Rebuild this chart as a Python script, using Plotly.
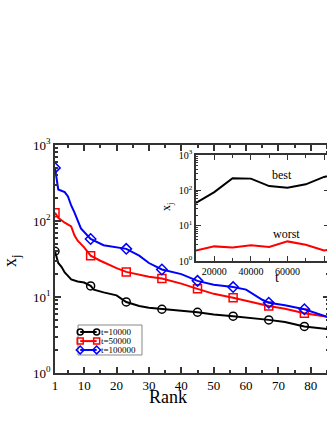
import plotly.graph_objects as go

# main panel: x_j vs rank
rank_10k = [1, 2, 3, 4, 5, 6, 8, 10, 12, 13, 16, 20, 23, 27, 30, 34, 40, 45, 50, 56, 62, 67, 72, 78, 85]
xj_10k = [40, 28, 25, 21, 19, 17, 16, 15.5, 14, 12.5, 11.5, 10.5, 8.6, 7.6, 7.2, 6.9, 6.6, 6.3, 5.9, 5.6, 5.3, 5.0, 4.7, 4.1, 3.8]

rank_50k = [1, 2, 4, 6, 7, 8, 10, 12, 15, 18, 20, 23, 27, 30, 34, 40, 45, 50, 56, 60, 65, 67, 72, 78, 85]
xj_50k = [128, 110, 95, 85, 65, 55, 45, 35, 30, 26, 24, 21.4, 19.5, 18.5, 17.5, 15, 12.8, 11, 9.8, 9, 8, 7.6, 7, 6.1, 5.5]

rank_100k = [1, 2, 4, 5, 6, 7, 9, 12, 16, 20, 23, 27, 30, 34, 40, 45, 50, 56, 60, 65, 67, 72, 78, 85]
xj_100k = [500, 260, 240, 210, 160, 130, 80, 58, 48, 45, 43, 35, 28, 23, 20, 16.3, 14.5, 13.5, 12.5, 9.2, 8.4, 7.8, 6.9, 5.5]

marker_ranks = [1, 12, 23, 34, 45, 56, 67, 78]

# inset: best / worst over time
t_vals = [10000, 20000, 30000, 40000, 50000, 60000, 70000, 80000, 90000]
xj_best = [44, 89, 220, 215, 132, 118, 148, 240, 320]
xj_worst = [2.0, 2.6, 2.4, 2.8, 2.5, 3.6, 2.9, 2.0, 2.3]

labels = ["t=10000", "t=50000", "t=100000"]
colors = ["black", "red", "blue"]
symbols = ["circle-open", "square-open", "diamond-open"]

serif = "Liberation Serif"
fig = go.Figure()

for name, rk, xj, col, sym in zip(labels, [rank_10k, rank_50k, rank_100k],
                                  [xj_10k, xj_50k, xj_100k], colors, symbols):
    mk = [xj[rk.index(r)] for r in marker_ranks]
    fig.add_trace(go.Scatter(x=rk, y=xj, mode="lines", line=dict(color=col, width=2),
                             showlegend=False, hoverinfo="skip"))
    fig.add_trace(go.Scatter(x=marker_ranks, y=mk, mode="markers", name=name,
                             marker=dict(symbol=sym, size=8, color=col, line=dict(color=col, width=1.5)),
                             showlegend=False))

fig.add_trace(go.Scatter(x=t_vals, y=xj_best, mode="lines", line=dict(color="black", width=2),
                         xaxis="x2", yaxis="y2", showlegend=False))
fig.add_trace(go.Scatter(x=t_vals, y=xj_worst, mode="lines", line=dict(color="red", width=2),
                         xaxis="x2", yaxis="y2", showlegend=False))

# hand-made compact legend on a hidden overlay axis (0..1 over the main plot area)
leg_x0, leg_x1 = 0.084, 0.3175
leg_y0, leg_y1 = 0.079, 0.2105
row_y = [0.18, 0.14, 0.101]
for name, col, sym, ry in zip(labels, colors, symbols, row_y):
    fig.add_trace(go.Scatter(x=[0.092, 0.152], y=[ry, ry], mode="lines+markers",
                             line=dict(color=col, width=2),
                             marker=dict(symbol=sym, size=6, color=col, line=dict(color=col, width=1.5)),
                             xaxis="x3", yaxis="y3", showlegend=False, hoverinfo="skip"))
    fig.add_annotation(text=name, x=0.162, y=ry, xref="paper", yref="paper", xanchor="left",
                       yanchor="middle", showarrow=False, font=dict(size=9, family=serif, color="black"))

ax_common = dict(showline=True, linecolor="#333", linewidth=1.5, mirror="ticks", ticks="inside",
                 tickcolor="#333", showgrid=False, zeroline=False, automargin=False)
dec_text = ["10<sup>0</sup>", "10<sup>1</sup>", "10<sup>2</sup>", "10<sup>3</sup>"]

fig.update_layout(
    width=329, height=423,
    margin=dict(l=55, r=0, t=145, b=50),
    paper_bgcolor="white", plot_bgcolor="white",
    font=dict(family=serif, color="black"),
    showlegend=False,
    xaxis=dict(**ax_common, range=[1, 85.6], tickvals=[1, 10, 20, 30, 40, 50, 60, 70, 80],
               ticklen=6, tickwidth=1.5, tickfont=dict(size=13),
               minor=dict(tickvals=[5, 15, 25, 35, 45, 55, 65, 75, 85], ticklen=3, ticks="inside", tickcolor="#333")),
    yaxis=dict(**ax_common, type="log", range=[0, 3], tickvals=[1, 10, 100, 1000], ticktext=dec_text,
               ticklen=6, tickwidth=1.5, tickfont=dict(size=13),
               minor=dict(ticks="inside", ticklen=3, tickcolor="#333", dtick="D1")),
    xaxis2=dict(**ax_common, domain=[0.5146, 1], anchor="y2", range=[10000, 82700],
                tickvals=[20000, 40000, 60000, 80000], tickformat="d", ticklen=5, tickwidth=1.2,
                tickfont=dict(size=10),
                minor=dict(tickvals=[10000, 30000, 50000, 70000], ticklen=3, ticks="inside", tickcolor="#333")),
    yaxis2=dict(**ax_common, domain=[0.491, 0.956], anchor="x2", type="log", range=[0, 3],
                tickvals=[1, 10, 100, 1000], ticktext=dec_text,
                ticklen=5, tickwidth=1.2, tickfont=dict(size=10),
                minor=dict(ticks="inside", ticklen=2, tickcolor="#333", dtick="D1")),
    xaxis3=dict(overlaying="x", range=[0, 1], visible=False, anchor="y3"),
    yaxis3=dict(overlaying="y", range=[0, 1], visible=False, anchor="x3"),
    shapes=[dict(type="rect", xref="paper", yref="paper", x0=leg_x0, x1=leg_x1, y0=leg_y0, y1=leg_y1,
                 line=dict(color="#888", width=1), fillcolor="white", layer="below")],
)

# axis titles placed as annotations (centred on the given point)
titles = [
    ("Rank", 0.412, -0.105, 0, 18),
    ("x<sub>j</sub>", -0.157, 0.496, -90, 18),
    ("t", 0.81, 0.421, 0, 14),
    ("x<sub>j</sub>", 0.409, 0.728, -90, 12),
]
for txt, tx, ty, ang, sz in titles:
    fig.add_annotation(text=txt, x=tx, y=ty, xref="paper", yref="paper", showarrow=False,
                       xanchor="center", yanchor="middle", textangle=ang,
                       font=dict(size=sz, family=serif, color="black"))

fig.add_annotation(text="best", x=57000, y=2.43, xref="x2", yref="y2", showarrow=False,
                   xanchor="center", yanchor="middle", font=dict(size=12, family=serif, color="black"))
fig.add_annotation(text="worst", x=59200, y=0.76, xref="x2", yref="y2", showarrow=False,
                   xanchor="center", yanchor="middle", font=dict(size=12, family=serif, color="black"))

# the figure runs past the right edge of the window on purpose; no page margin, no scrollbars
fig.write_html("out.html", config={"displayModeBar": False},
               post_script="document.documentElement.style.overflow='hidden';"
                           "document.body.style.overflow='hidden';"
                           "document.body.style.margin='0';")
